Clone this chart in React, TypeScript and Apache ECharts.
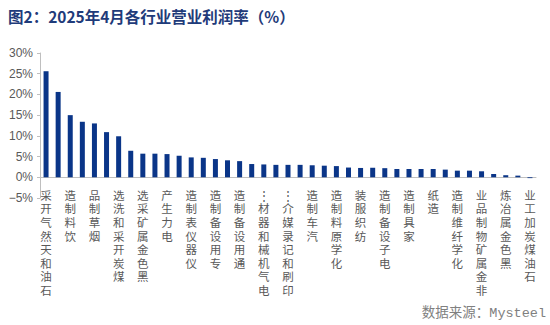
import React, { useEffect, useRef } from "react";
import * as echarts from "echarts";

const categories: string[] = [
  "石油和天然气开采", "有色金属矿采选", "饮料制造", "医药制造", "烟草制品",
  "非金属矿采选", "煤炭开采和洗选", "燃气生产", "黑色金属矿采选", "水的生产",
  "电力生产", "开采专业辅助", "仪器仪表制造", "铁路船舶航空", "专用设备制造",
  "其他制造", "通用设备制造", "金属制品", "电气机械和器材…", "橡胶和塑料制品",
  "印刷和记录媒介…", "有色金属冶炼", "汽车制造", "木材加工", "化学原料制造",
  "食品制造", "纺织服装", "农副食品加工", "电子设备制造", "纺织业",
  "家具制造", "皮革制鞋", "造纸", "文教工美", "化学纤维制造",
  "废弃资源利用", "非金属矿物制品业", "金属制品修理", "黑色金属冶炼", "其他采矿业",
  "石油煤炭加工业",
];

const margins: number[] = [
  25.6, 20.6, 15.0, 13.4, 13.0, 10.9, 9.9, 6.4, 5.7, 5.7,
  5.6, 5.2, 4.8, 4.7, 4.4, 4.1, 3.9, 3.2, 3.1, 3.0,
  3.0, 3.0, 2.9, 2.8, 2.7, 2.35, 2.25, 2.3, 2.2, 2.0,
  2.0, 2.0, 2.0, 1.85, 1.6, 1.6, 1.45, 0.8, 0.5, 0.4,
  -0.2,
];

const yTicks = { min: -5, max: 30, interval: 5 };

export default function App() {
  const ref = useRef<HTMLDivElement>(null);
  useEffect(() => {
    document.body.style.margin = "0";
    if (!ref.current) return;
    const chart = echarts.init(ref.current, undefined, { renderer: "svg" });
    chart.setOption({
      animation: false,
      backgroundColor: "#ffffff",
      title: {
        text: "图2：2025年4月各行业营业利润率（%）",
        left: 3,
        top: 3,
        textStyle: {
          fontSize: 15.5,
          fontWeight: "bold",
          color: "#1F3B7A",
          fontFamily: "'Noto Sans CJK SC', sans-serif",
        },
      },
      graphic: [
        {
          type: "text",
          right: 4,
          top: 307,
          style: {
            text: "数据来源：Mysteel",
            fontSize: 13.5,
            fill: "#808080",
            fontFamily: "'Liberation Mono', 'Noto Sans CJK SC', monospace",
          },
        },
      ],
      grid: { left: 40, right: 14, top: 53, bottom: 127, containLabel: false },
      xAxis: {
        type: "category",
        data: categories,
        axisLine: { onZero: true, lineStyle: { color: "#BFBFBF", width: 1 } },
        axisTick: { show: false },
        axisLabel: {
          interval: 1,
          margin: -10,
          fontSize: 11.5,
          lineHeight: 13.6,
          color: "#595959",
          fontFamily: "'Noto Sans CJK SC', sans-serif",
          formatter: (v: string) =>
            v.replace("…", "⋮").split("").reverse().join("\n"),
        },
      },
      yAxis: {
        type: "value",
        min: yTicks.min,
        max: yTicks.max,
        interval: yTicks.interval,
        axisLine: { show: true, lineStyle: { color: "#BFBFBF", width: 1 } },
        axisTick: { show: true, length: 3, lineStyle: { color: "#BFBFBF" } },
        splitLine: { show: false },
        axisLabel: {
          margin: 7,
          fontSize: 12,
          color: "#595959",
          fontFamily: "'Liberation Sans', Arial, sans-serif",
          formatter: (v: number) => `${v}%`.replace("-", "−"),
        },
      },
      series: [
        {
          type: "bar",
          data: margins,
          barWidth: 5,
          itemStyle: { color: "#0A3588" },
        },
      ],
    });
    return () => chart.dispose();
  }, []);
  return <div ref={ref} style={{ width: 550, height: 325 }} />;
}
